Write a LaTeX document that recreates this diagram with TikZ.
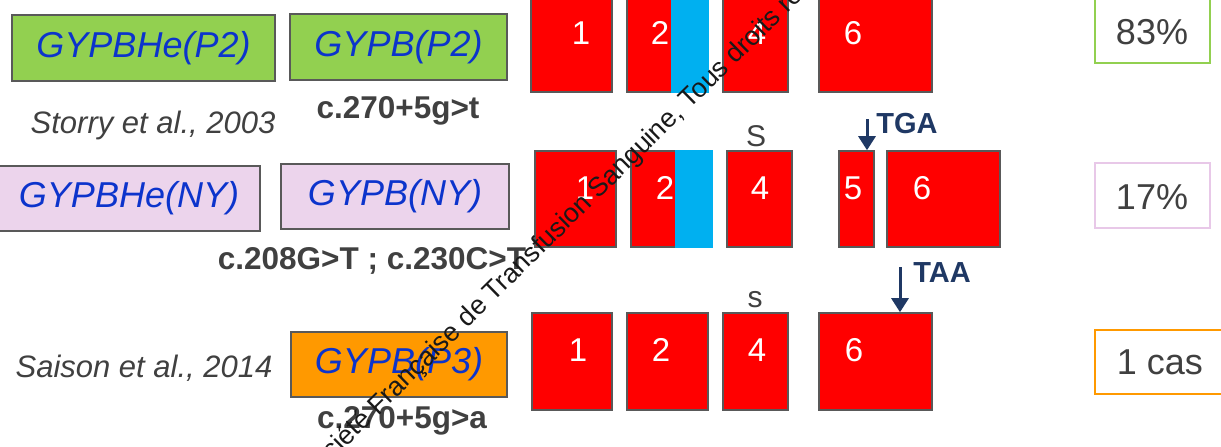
\documentclass[tikz,border=0pt]{standalone}
\usepackage{fontspec}
\setmainfont{Liberation Sans}
\usetikzlibrary{arrows.meta}
\definecolor{exred}{RGB}{255,0,0}
\definecolor{exblue}{RGB}{0,176,240}
\definecolor{bgreen}{RGB}{146,208,80}
\definecolor{bpink}{RGB}{236,212,236}
\definecolor{bpinkline}{RGB}{232,200,232}
\definecolor{borange}{RGB}{255,153,0}
\definecolor{edgegray}{RGB}{89,89,89}
\definecolor{txtgray}{RGB}{64,64,64}
\definecolor{txtblue}{RGB}{12,52,204}
\definecolor{navy}{RGB}{31,56,100}
\definecolor{wmark}{RGB}{25,25,25}
\begin{document}
\begin{tikzpicture}[x=1pt,y=-1pt,
  allele/.style={draw=edgegray, line width=1.6pt, inner sep=0pt,
    font=\fontsize{36}{40}\selectfont\itshape, text=txtblue},
  exon/.style={draw=edgegray, line width=1.6pt, fill=exred, inner sep=0pt},
  num/.style={font=\fontsize{33}{36}\selectfont, text=white, inner sep=0pt},
  mut/.style={font=\fontsize{31.5}{34}\selectfont\bfseries, text=txtgray, inner sep=0pt, anchor=base},
  refl/.style={font=\fontsize{31}{34}\selectfont\itshape, text=txtgray, inner sep=0pt, anchor=base},
  freq/.style={line width=1.6pt, inner sep=0pt, fill=white},
  pcttext/.style={font=\fontsize{36}{40}\selectfont, text=txtgray, inner sep=0pt},
  site/.style={font=\fontsize{30}{33}\selectfont, text=txtgray, inner sep=0pt},
  codon/.style={font=\fontsize{29}{31}\selectfont\bfseries, text=navy, inner sep=0pt},
  stoparrow/.style={draw=navy, line width=3pt, -{Triangle[width=17pt,length=14pt]}},
]
\useasboundingbox (0,0) rectangle (1221,447);
\clip (0,0) rectangle (1221,447);
\fill[white] (0,0) rectangle (1221,447);

% ---------- row 1 ----------
\node[allele, fill=bgreen, minimum width=263, minimum height=66] (g1) at (143.5,48) {GYPBHe(P2)};
\node[allele, fill=bgreen, minimum width=217, minimum height=66] (g2) at (398.5,47) {GYPB(P2)};
\node[mut] (m1) at (398,118) {c.270+5g>t};
\node[refl] (r1) at (153,133) {Storry et al., 2003};

\node[exon, minimum width=81, minimum height=96] (a1) at (571.5,44) {};
\node[exon, minimum width=81, minimum height=96] (a2) at (667.5,44) {};
\fill[exblue] (671,-6) rectangle (708.8,92.8);
\node[exon, minimum width=65, minimum height=96] (a4) at (755.5,44) {};
\node[exon, minimum width=113, minimum height=96] (a6) at (875.5,44) {};
\node[num] (na1) at (581,33) {1};
\node[num] (na2) at (660,33) {2};
\node[num] (na4) at (757,33) {4};
\node[num] (na6) at (853,33) {6};

\node[freq, draw=bgreen, minimum width=115, minimum height=66] (f1) at (1152.5,30) {};
\node[pcttext] (t1) at (1152,32) {83\%};

% ---------- row 2 ----------
\node[allele, fill=bpink, minimum width=262, minimum height=65] (p1) at (129,198.5) {GYPBHe(NY)};
\node[allele, fill=bpink, minimum width=228, minimum height=65] (p2) at (395,196.5) {GYPB(NY)};
\node[mut] (m2) at (372,269) {c.208G>T ; c.230C>T};

\node[exon, minimum width=81, minimum height=96] (b1) at (575.5,199) {};
\node[exon, minimum width=81, minimum height=96] (b2) at (671.5,199) {};
\fill[exblue] (675,150.2) rectangle (712.8,247.8);
\node[exon, minimum width=65, minimum height=96] (b4) at (759.5,199) {};
\node[exon, minimum width=35, minimum height=96] (b5) at (856.5,199) {};
\node[exon, minimum width=113, minimum height=96] (b6) at (943.5,199) {};
\node[num] (nb1) at (585,188) {1};
\node[num] (nb2) at (665,188) {2};
\node[num] (nb4) at (760,188) {4};
\node[num] (nb5) at (853,188) {5};
\node[num] (nb6) at (922,188) {6};
\node[site] (s2) at (756,136) {S};

\coordinate (tgaS) at (867,119);
\draw[stoparrow] (tgaS) -- (tgaS |- b5.north);
\node[codon] (tga) at (907,124) {TGA};

\node[freq, draw=bpinkline, minimum width=115, minimum height=65] (f2) at (1152.5,195.5) {};
\node[pcttext] (t2) at (1152,197) {17\%};

% ---------- row 3 ----------
\node[refl] (r3) at (144,377) {Saison et al., 2014};
\node[allele, fill=borange, minimum width=216, minimum height=65] (o1) at (399,364.5) {GYPB(P3)};
\node[mut] (m3) at (402,428) {c.270+5g>a};

\node[exon, minimum width=80, minimum height=97] (c1) at (572,361.5) {};
\node[exon, minimum width=81, minimum height=97] (c2) at (667.5,361.5) {};
\node[exon, minimum width=65, minimum height=97] (c4) at (755.5,361.5) {};
\node[exon, minimum width=113, minimum height=97] (c6) at (875.5,361.5) {};
\node[num] (nc1) at (578,350) {1};
\node[num] (nc2) at (661,350) {2};
\node[num] (nc4) at (757,350) {4};
\node[num] (nc6) at (854,350) {6};
\node[site] (s3) at (755,300) {s};

\coordinate (taaS) at (900,267);
\draw[stoparrow] (taaS) -- (taaS |- c6.north);
\node[codon] (taa) at (942,273) {TAA};

\node[freq, draw=borange, minimum width=137, minimum height=64] (f3) at (1163.5,362) {};
\node[pcttext] (t3) at (1160,362) {1 cas};

% ---------- watermark ----------
\node[rotate=44.5, anchor=base west, inner sep=0pt, text=wmark,
  font=\fontsize{26.8}{30}\selectfont] (wm) at (309,484)
  {Société Française de Transfusion Sanguine, Tous droits réservés};
\end{tikzpicture}
\end{document}
